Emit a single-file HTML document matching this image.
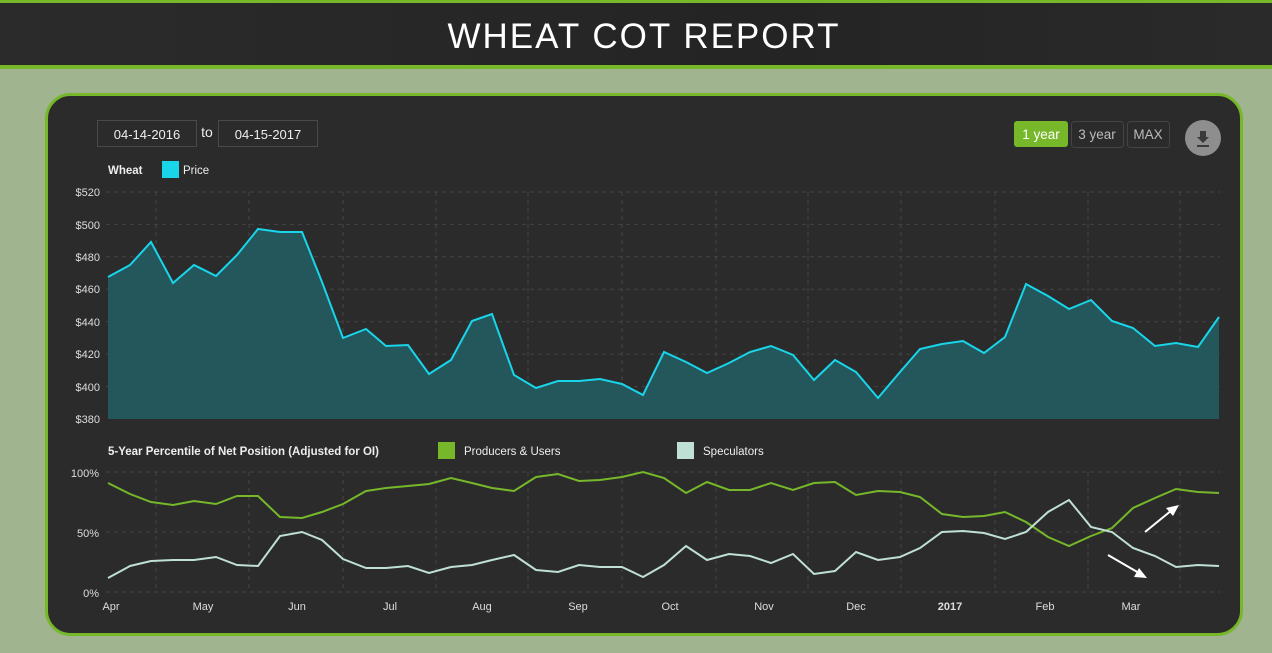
<!DOCTYPE html>
<html><head><meta charset="utf-8"><style>
html,body{margin:0;padding:0;width:1272px;height:653px;overflow:hidden;background:#9fb48f;font-family:"Liberation Sans","DejaVu Sans",sans-serif}
</style></head><body>
<svg width="1272" height="653" viewBox="0 0 1272 653" xmlns="http://www.w3.org/2000/svg" font-family="Liberation Sans, DejaVu Sans, sans-serif">
<defs><linearGradient id="hg" x1="0" x2="1"><stop offset="0" stop-color="#2b2b2b"/><stop offset="0.6" stop-color="#242424"/><stop offset="1" stop-color="#2a2a2a"/></linearGradient></defs>
<rect x="0" y="0" width="1272" height="68" fill="url(#hg)"/>
<rect x="0" y="0" width="1272" height="3" fill="#76b82a"/>
<rect x="0" y="65" width="1272" height="4" fill="#76b82a"/>
<text x="644" y="48" text-anchor="middle" fill="#fff" font-size="35" letter-spacing="2">WHEAT COT REPORT</text>
<rect x="46.5" y="94.5" width="1195" height="540" rx="24" fill="#2b2b2b" stroke="#76b82a" stroke-width="3"/>
<rect x="97.5" y="120.5" width="99" height="26" fill="none" stroke="#4a4a4a"/>
<text x="147" y="139" text-anchor="middle" fill="#eee" font-size="13">04-14-2016</text>
<text x="207" y="137" text-anchor="middle" fill="#eee" font-size="14">to</text>
<rect x="218.5" y="120.5" width="99" height="26" fill="none" stroke="#4a4a4a"/>
<text x="268" y="139" text-anchor="middle" fill="#eee" font-size="13">04-15-2017</text>
<rect x="1014" y="121" width="54" height="26" rx="3" fill="#76b82a"/>
<text x="1041" y="139" text-anchor="middle" fill="#fff" font-size="13.5">1 year</text>
<rect x="1071.5" y="121.5" width="52" height="26" rx="3" fill="none" stroke="#444"/>
<text x="1097" y="139" text-anchor="middle" fill="#bbb" font-size="13.5">3 year</text>
<rect x="1127.5" y="121.5" width="42" height="26" rx="3" fill="none" stroke="#444"/>
<text x="1148" y="139" text-anchor="middle" fill="#bbb" font-size="13.5">MAX</text>
<circle cx="1203" cy="138" r="18" fill="#8e8e8e"/>
<path d="M1200 131h6v6h3l-6 6-6-6h3z M1197 145h12v2h-12z" fill="#3a3a3a"/>
<text x="108" y="174" fill="#eee" font-size="11.5" font-weight="bold">Wheat</text>
<rect x="162" y="161" width="17" height="17" fill="#19d5ea"/>
<text x="183" y="174" fill="#eee" font-size="11.5">Price</text>
<g stroke="#444" stroke-dasharray="4,4" stroke-width="1">
<line x1="106" x2="1220" y1="192" y2="192"/><line x1="106" x2="1220" y1="224.4" y2="224.4"/><line x1="106" x2="1220" y1="256.8" y2="256.8"/><line x1="106" x2="1220" y1="289.3" y2="289.3"/><line x1="106" x2="1220" y1="321.7" y2="321.7"/><line x1="106" x2="1220" y1="354.1" y2="354.1"/><line x1="106" x2="1220" y1="386.6" y2="386.6"/>
<line x1="156" x2="156" y1="192" y2="419"/><line x1="249" x2="249" y1="192" y2="419"/><line x1="343" x2="343" y1="192" y2="419"/><line x1="436" x2="436" y1="192" y2="419"/><line x1="528" x2="528" y1="192" y2="419"/><line x1="622" x2="622" y1="192" y2="419"/><line x1="716" x2="716" y1="192" y2="419"/><line x1="808" x2="808" y1="192" y2="419"/><line x1="901" x2="901" y1="192" y2="419"/><line x1="995" x2="995" y1="192" y2="419"/><line x1="1088" x2="1088" y1="192" y2="419"/><line x1="1180" x2="1180" y1="192" y2="419"/>
</g>
<g fill="#ddd" font-size="11" text-anchor="end">
<text x="100" y="196">$520</text><text x="100" y="229">$500</text><text x="100" y="261">$480</text><text x="100" y="293">$460</text><text x="100" y="326">$440</text><text x="100" y="358">$420</text><text x="100" y="391">$400</text><text x="100" y="423">$380</text>
</g>
<path fill="#23575c" d="M108,419 L108,277 130,265 151,242 173,283 194,265 216,276 237,255 258,229 280,232 302,232 322,282 343,338 366,329 386,346 408,345 429,374 451,360 472,321 492,314 514,375 536,388 558,381 579,381 600,379 622,384 643,395 664,352 686,362 707,373 729,363 750,352 771,346 793,355 814,380 835,360 856,372 878,398 900,372 920,349 942,344 963,341 984,353 1005,337 1026,284 1048,296 1069,309 1091,300 1112,321 1133,328 1155,346 1176,343 1198,347 1219,317 L1219,419 Z"/>
<polyline fill="none" stroke="#19d5ea" stroke-width="2" points="108,277 130,265 151,242 173,283 194,265 216,276 237,255 258,229 280,232 302,232 322,282 343,338 366,329 386,346 408,345 429,374 451,360 472,321 492,314 514,375 536,388 558,381 579,381 600,379 622,384 643,395 664,352 686,362 707,373 729,363 750,352 771,346 793,355 814,380 835,360 856,372 878,398 900,372 920,349 942,344 963,341 984,353 1005,337 1026,284 1048,296 1069,309 1091,300 1112,321 1133,328 1155,346 1176,343 1198,347 1219,317"/>
<text x="108" y="455" fill="#eee" font-size="11.5" font-weight="bold">5-Year Percentile of Net Position (Adjusted for OI)</text>
<rect x="438" y="442" width="17" height="17" fill="#76b82a"/>
<text x="464" y="455" fill="#eee" font-size="11.5">Producers &amp; Users</text>
<rect x="677" y="442" width="17" height="17" fill="#bfe0d4"/>
<text x="703" y="455" fill="#eee" font-size="11.5">Speculators</text>
<g stroke="#444" stroke-dasharray="4,4" stroke-width="1">
<line x1="106" x2="1220" y1="472" y2="472"/><line x1="106" x2="1220" y1="532" y2="532"/><line x1="106" x2="1220" y1="592" y2="592"/>
<line x1="156" x2="156" y1="472" y2="592"/><line x1="249" x2="249" y1="472" y2="592"/><line x1="343" x2="343" y1="472" y2="592"/><line x1="436" x2="436" y1="472" y2="592"/><line x1="528" x2="528" y1="472" y2="592"/><line x1="622" x2="622" y1="472" y2="592"/><line x1="716" x2="716" y1="472" y2="592"/><line x1="808" x2="808" y1="472" y2="592"/><line x1="901" x2="901" y1="472" y2="592"/><line x1="995" x2="995" y1="472" y2="592"/><line x1="1088" x2="1088" y1="472" y2="592"/><line x1="1180" x2="1180" y1="472" y2="592"/>
</g>
<g fill="#ddd" font-size="11" text-anchor="end">
<text x="99" y="477">100%</text><text x="99" y="537">50%</text><text x="99" y="597">0%</text>
</g>
<g fill="#ddd" font-size="11" text-anchor="middle">
<text x="111" y="610">Apr</text><text x="203" y="610">May</text><text x="297" y="610">Jun</text><text x="390" y="610">Jul</text><text x="482" y="610">Aug</text><text x="578" y="610">Sep</text><text x="670" y="610">Oct</text><text x="764" y="610">Nov</text><text x="856" y="610">Dec</text><text x="950" y="610" font-weight="bold">2017</text><text x="1045" y="610">Feb</text><text x="1131" y="610">Mar</text>
</g>
<polyline fill="none" stroke="#76b82a" stroke-width="2" points="108,483 130,494 151,502 173,505 194,501 216,504 237,496 258,496 280,517 302,518 322,512 343,504 366,491 386,488 408,486 429,484 451,478 472,483 492,488 514,491 536,477 558,474 579,481 600,480 622,477 643,472 664,478 686,493 707,482 729,490 750,490 771,483 793,490 814,483 835,482 856,495 878,491 900,492 920,497 942,514 963,517 984,516 1005,512 1026,522 1048,537 1069,546 1091,536 1112,528 1133,508 1155,498 1176,489 1198,492 1219,493"/>
<polyline fill="none" stroke="#bfe0d4" stroke-width="2" points="108,578 130,566 151,561 173,560 194,560 216,557 237,565 258,566 280,536 302,532 322,540 343,559 366,568 386,568 408,566 429,573 451,567 472,565 492,560 514,555 536,570 558,572 579,565 600,567 622,567 643,577 664,565 686,546 707,560 729,554 750,556 771,563 793,554 814,574 835,571 856,552 878,560 900,557 920,548 942,532 963,531 984,533 1005,539 1026,532 1048,512 1069,500 1091,527 1112,532 1133,548 1155,556 1176,567 1198,565 1219,566"/>
<g stroke="#fff" stroke-width="2" fill="#fff">
<line x1="1145" y1="532" x2="1172" y2="510"/><path d="M1179,505 L1166,508 L1173,516 Z" stroke="none"/>
<line x1="1108" y1="555" x2="1139" y2="573"/><path d="M1147,578 L1134,577 L1139,568 Z" stroke="none"/>
</g>
</svg>
</body></html>
